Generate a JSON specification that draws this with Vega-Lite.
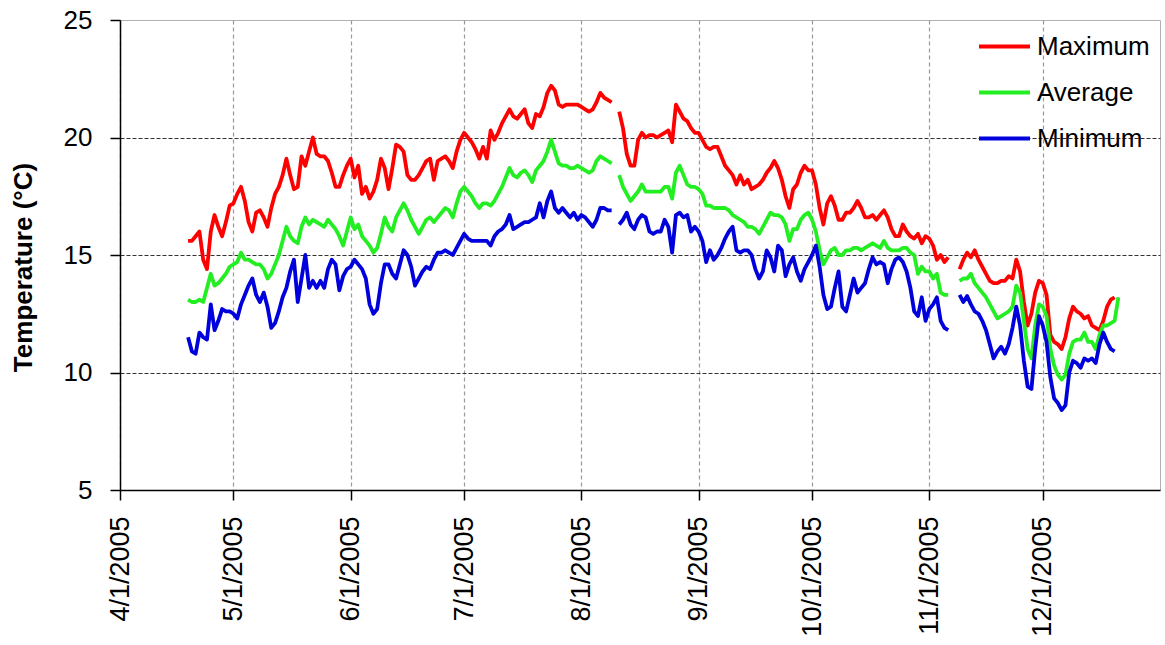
{
"$schema": "https://vega.github.io/schema/vega-lite/v6.json",
"width": 1040, "height": 470,
"autosize": {"type": "none"},
"padding": {"left": 120, "top": 20, "right": 5, "bottom": 155},
"background": "white",
"config": {"view": {"stroke": "#b0b0b0", "strokeWidth": 1}, "font": "Liberation Sans"},
"data": {"values": [
{"date":"2005/04/19","Maximum":15.6,"Average":13.1,"Minimum":11.5},
{"date":"2005/04/20","Maximum":15.6,"Average":13.0,"Minimum":10.9},
{"date":"2005/04/21","Maximum":15.8,"Average":13.0,"Minimum":10.8},
{"date":"2005/04/22","Maximum":16.0,"Average":13.1,"Minimum":11.7},
{"date":"2005/04/23","Maximum":14.8,"Average":13.0,"Minimum":11.5},
{"date":"2005/04/24","Maximum":14.4,"Average":13.6,"Minimum":11.4},
{"date":"2005/04/25","Maximum":16.0,"Average":14.2,"Minimum":12.9},
{"date":"2005/04/26","Maximum":16.7,"Average":13.7,"Minimum":11.8},
{"date":"2005/04/27","Maximum":16.2,"Average":13.8,"Minimum":12.2},
{"date":"2005/04/28","Maximum":15.8,"Average":14.0,"Minimum":12.7},
{"date":"2005/04/29","Maximum":16.4,"Average":14.2,"Minimum":12.6},
{"date":"2005/04/30","Maximum":17.1,"Average":14.5,"Minimum":12.6},
{"date":"2005/05/01","Maximum":17.2,"Average":14.6,"Minimum":12.5},
{"date":"2005/05/02","Maximum":17.6,"Average":14.7,"Minimum":12.3},
{"date":"2005/05/03","Maximum":17.9,"Average":15.1,"Minimum":12.9},
{"date":"2005/05/04","Maximum":17.3,"Average":14.8,"Minimum":13.3},
{"date":"2005/05/05","Maximum":16.4,"Average":14.8,"Minimum":13.7},
{"date":"2005/05/06","Maximum":16.0,"Average":14.7,"Minimum":14.0},
{"date":"2005/05/07","Maximum":16.8,"Average":14.6,"Minimum":13.3},
{"date":"2005/05/08","Maximum":16.9,"Average":14.6,"Minimum":13.0},
{"date":"2005/05/09","Maximum":16.6,"Average":14.4,"Minimum":13.4},
{"date":"2005/05/10","Maximum":16.2,"Average":14.0,"Minimum":12.8},
{"date":"2005/05/11","Maximum":17.0,"Average":14.2,"Minimum":11.9},
{"date":"2005/05/12","Maximum":17.6,"Average":14.6,"Minimum":12.1},
{"date":"2005/05/13","Maximum":17.9,"Average":15.0,"Minimum":12.6},
{"date":"2005/05/14","Maximum":18.4,"Average":15.6,"Minimum":13.2},
{"date":"2005/05/15","Maximum":19.1,"Average":16.2,"Minimum":13.6},
{"date":"2005/05/16","Maximum":18.4,"Average":15.8,"Minimum":14.3},
{"date":"2005/05/17","Maximum":17.8,"Average":15.6,"Minimum":14.8},
{"date":"2005/05/18","Maximum":17.9,"Average":15.5,"Minimum":13.0},
{"date":"2005/05/19","Maximum":19.2,"Average":16.2,"Minimum":14.0},
{"date":"2005/05/20","Maximum":18.8,"Average":16.6,"Minimum":15.0},
{"date":"2005/05/21","Maximum":19.4,"Average":16.3,"Minimum":13.6},
{"date":"2005/05/22","Maximum":20.0,"Average":16.5,"Minimum":13.9},
{"date":"2005/05/23","Maximum":19.3,"Average":16.4,"Minimum":13.6},
{"date":"2005/05/24","Maximum":19.2,"Average":16.3,"Minimum":13.9},
{"date":"2005/05/25","Maximum":19.2,"Average":16.2,"Minimum":13.6},
{"date":"2005/05/26","Maximum":19.0,"Average":16.5,"Minimum":14.4},
{"date":"2005/05/27","Maximum":18.5,"Average":16.3,"Minimum":14.8},
{"date":"2005/05/28","Maximum":17.9,"Average":16.1,"Minimum":14.6},
{"date":"2005/05/29","Maximum":17.9,"Average":15.8,"Minimum":13.5},
{"date":"2005/05/30","Maximum":18.4,"Average":15.4,"Minimum":14.1},
{"date":"2005/05/31","Maximum":18.8,"Average":16.0,"Minimum":14.4},
{"date":"2005/06/01","Maximum":19.1,"Average":16.6,"Minimum":14.5},
{"date":"2005/06/02","Maximum":18.3,"Average":16.1,"Minimum":14.8},
{"date":"2005/06/03","Maximum":18.8,"Average":16.3,"Minimum":14.6},
{"date":"2005/06/04","Maximum":17.6,"Average":15.8,"Minimum":14.4},
{"date":"2005/06/05","Maximum":17.9,"Average":15.6,"Minimum":14.0},
{"date":"2005/06/06","Maximum":17.4,"Average":15.4,"Minimum":12.9},
{"date":"2005/06/07","Maximum":17.7,"Average":15.1,"Minimum":12.5},
{"date":"2005/06/08","Maximum":18.2,"Average":15.3,"Minimum":12.7},
{"date":"2005/06/09","Maximum":19.1,"Average":15.9,"Minimum":13.8},
{"date":"2005/06/10","Maximum":18.7,"Average":16.6,"Minimum":14.6},
{"date":"2005/06/11","Maximum":17.8,"Average":16.2,"Minimum":14.6},
{"date":"2005/06/12","Maximum":18.7,"Average":16.0,"Minimum":14.2},
{"date":"2005/06/13","Maximum":19.7,"Average":16.6,"Minimum":14.0},
{"date":"2005/06/14","Maximum":19.6,"Average":16.9,"Minimum":14.6},
{"date":"2005/06/15","Maximum":19.4,"Average":17.2,"Minimum":15.2},
{"date":"2005/06/16","Maximum":18.4,"Average":16.9,"Minimum":15.0},
{"date":"2005/06/17","Maximum":18.2,"Average":16.5,"Minimum":14.5},
{"date":"2005/06/18","Maximum":18.2,"Average":16.2,"Minimum":13.7},
{"date":"2005/06/19","Maximum":18.4,"Average":15.9,"Minimum":14.0},
{"date":"2005/06/20","Maximum":18.7,"Average":16.2,"Minimum":14.3},
{"date":"2005/06/21","Maximum":19.0,"Average":16.5,"Minimum":14.5},
{"date":"2005/06/22","Maximum":19.1,"Average":16.6,"Minimum":14.4},
{"date":"2005/06/23","Maximum":18.2,"Average":16.4,"Minimum":14.8},
{"date":"2005/06/24","Maximum":19.0,"Average":16.6,"Minimum":15.1},
{"date":"2005/06/25","Maximum":19.1,"Average":16.8,"Minimum":15.1},
{"date":"2005/06/26","Maximum":19.2,"Average":17.0,"Minimum":15.2},
{"date":"2005/06/27","Maximum":19.0,"Average":16.9,"Minimum":15.1},
{"date":"2005/06/28","Maximum":18.7,"Average":16.6,"Minimum":15.0},
{"date":"2005/06/29","Maximum":19.4,"Average":17.2,"Minimum":15.3},
{"date":"2005/06/30","Maximum":19.9,"Average":17.7,"Minimum":15.6},
{"date":"2005/07/01","Maximum":20.2,"Average":17.9,"Minimum":15.9},
{"date":"2005/07/02","Maximum":20.0,"Average":17.7,"Minimum":15.7},
{"date":"2005/07/03","Maximum":19.8,"Average":17.5,"Minimum":15.6},
{"date":"2005/07/04","Maximum":19.5,"Average":17.2,"Minimum":15.6},
{"date":"2005/07/05","Maximum":19.1,"Average":17.0,"Minimum":15.6},
{"date":"2005/07/06","Maximum":19.6,"Average":17.2,"Minimum":15.6},
{"date":"2005/07/07","Maximum":19.1,"Average":17.2,"Minimum":15.6},
{"date":"2005/07/08","Maximum":20.3,"Average":17.1,"Minimum":15.4},
{"date":"2005/07/09","Maximum":19.9,"Average":17.3,"Minimum":15.8},
{"date":"2005/07/10","Maximum":20.2,"Average":17.6,"Minimum":16.0},
{"date":"2005/07/11","Maximum":20.6,"Average":17.9,"Minimum":16.1},
{"date":"2005/07/12","Maximum":20.9,"Average":18.3,"Minimum":16.3},
{"date":"2005/07/13","Maximum":21.2,"Average":18.7,"Minimum":16.7},
{"date":"2005/07/14","Maximum":20.9,"Average":18.4,"Minimum":16.1},
{"date":"2005/07/15","Maximum":20.8,"Average":18.3,"Minimum":16.2},
{"date":"2005/07/16","Maximum":21.0,"Average":18.5,"Minimum":16.3},
{"date":"2005/07/17","Maximum":21.2,"Average":18.6,"Minimum":16.4},
{"date":"2005/07/18","Maximum":20.6,"Average":18.4,"Minimum":16.4},
{"date":"2005/07/19","Maximum":20.4,"Average":18.1,"Minimum":16.5},
{"date":"2005/07/20","Maximum":21.0,"Average":18.6,"Minimum":16.6},
{"date":"2005/07/21","Maximum":20.9,"Average":18.8,"Minimum":17.2},
{"date":"2005/07/22","Maximum":21.3,"Average":19.0,"Minimum":16.6},
{"date":"2005/07/23","Maximum":21.9,"Average":19.4,"Minimum":17.3},
{"date":"2005/07/24","Maximum":22.2,"Average":19.9,"Minimum":17.7},
{"date":"2005/07/25","Maximum":22.0,"Average":19.4,"Minimum":17.0},
{"date":"2005/07/26","Maximum":21.4,"Average":18.9,"Minimum":16.8},
{"date":"2005/07/27","Maximum":21.3,"Average":18.8,"Minimum":17.0},
{"date":"2005/07/28","Maximum":21.4,"Average":18.8,"Minimum":16.8},
{"date":"2005/07/29","Maximum":21.4,"Average":18.7,"Minimum":16.6},
{"date":"2005/07/30","Maximum":21.4,"Average":18.7,"Minimum":16.8},
{"date":"2005/07/31","Maximum":21.4,"Average":18.8,"Minimum":16.5},
{"date":"2005/08/01","Maximum":21.3,"Average":18.7,"Minimum":16.7},
{"date":"2005/08/02","Maximum":21.2,"Average":18.6,"Minimum":16.6},
{"date":"2005/08/03","Maximum":21.1,"Average":18.5,"Minimum":16.4},
{"date":"2005/08/04","Maximum":21.2,"Average":18.6,"Minimum":16.2},
{"date":"2005/08/05","Maximum":21.5,"Average":19.0,"Minimum":16.5},
{"date":"2005/08/06","Maximum":21.9,"Average":19.2,"Minimum":17.0},
{"date":"2005/08/07","Maximum":21.7,"Average":19.1,"Minimum":17.0},
{"date":"2005/08/08","Maximum":21.6,"Average":19.0,"Minimum":16.9},
{"date":"2005/08/09","Maximum":21.5,"Average":18.9,"Minimum":16.9},
{"date":"2005/08/10","Maximum":null,"Average":null,"Minimum":null},
{"date":"2005/08/11","Maximum":21.1,"Average":18.4,"Minimum":16.3},
{"date":"2005/08/12","Maximum":20.4,"Average":17.9,"Minimum":16.5},
{"date":"2005/08/13","Maximum":19.3,"Average":17.6,"Minimum":16.8},
{"date":"2005/08/14","Maximum":18.8,"Average":17.3,"Minimum":16.3},
{"date":"2005/08/15","Maximum":18.8,"Average":17.5,"Minimum":16.1},
{"date":"2005/08/16","Maximum":19.9,"Average":17.7,"Minimum":16.5},
{"date":"2005/08/17","Maximum":20.2,"Average":18.0,"Minimum":16.7},
{"date":"2005/08/18","Maximum":20.0,"Average":17.7,"Minimum":16.6},
{"date":"2005/08/19","Maximum":20.1,"Average":17.7,"Minimum":16.0},
{"date":"2005/08/20","Maximum":20.1,"Average":17.7,"Minimum":15.9},
{"date":"2005/08/21","Maximum":20.0,"Average":17.7,"Minimum":16.0},
{"date":"2005/08/22","Maximum":20.1,"Average":17.7,"Minimum":16.0},
{"date":"2005/08/23","Maximum":20.2,"Average":17.9,"Minimum":16.5},
{"date":"2005/08/24","Maximum":20.3,"Average":17.9,"Minimum":16.2},
{"date":"2005/08/25","Maximum":19.8,"Average":17.4,"Minimum":15.1},
{"date":"2005/08/26","Maximum":21.4,"Average":18.5,"Minimum":16.7},
{"date":"2005/08/27","Maximum":21.1,"Average":18.8,"Minimum":16.8},
{"date":"2005/08/28","Maximum":20.8,"Average":18.4,"Minimum":16.6},
{"date":"2005/08/29","Maximum":20.7,"Average":18.0,"Minimum":16.7},
{"date":"2005/08/30","Maximum":20.4,"Average":17.9,"Minimum":16.0},
{"date":"2005/08/31","Maximum":20.2,"Average":17.9,"Minimum":16.2},
{"date":"2005/09/01","Maximum":20.2,"Average":17.8,"Minimum":16.0},
{"date":"2005/09/02","Maximum":19.9,"Average":17.6,"Minimum":15.6},
{"date":"2005/09/03","Maximum":19.6,"Average":17.1,"Minimum":14.7},
{"date":"2005/09/04","Maximum":19.5,"Average":17.1,"Minimum":15.2},
{"date":"2005/09/05","Maximum":19.6,"Average":17.0,"Minimum":14.8},
{"date":"2005/09/06","Maximum":19.6,"Average":17.0,"Minimum":15.0},
{"date":"2005/09/07","Maximum":19.2,"Average":17.0,"Minimum":15.3},
{"date":"2005/09/08","Maximum":18.8,"Average":17.0,"Minimum":15.7},
{"date":"2005/09/09","Maximum":18.6,"Average":16.9,"Minimum":16.0},
{"date":"2005/09/10","Maximum":18.4,"Average":16.7,"Minimum":16.2},
{"date":"2005/09/11","Maximum":18.0,"Average":16.6,"Minimum":15.2},
{"date":"2005/09/12","Maximum":18.4,"Average":16.5,"Minimum":15.1},
{"date":"2005/09/13","Maximum":18.0,"Average":16.4,"Minimum":15.2},
{"date":"2005/09/14","Maximum":18.2,"Average":16.2,"Minimum":15.2},
{"date":"2005/09/15","Maximum":17.8,"Average":16.2,"Minimum":15.0},
{"date":"2005/09/16","Maximum":17.9,"Average":16.1,"Minimum":14.4},
{"date":"2005/09/17","Maximum":18.0,"Average":15.9,"Minimum":14.0},
{"date":"2005/09/18","Maximum":18.2,"Average":16.2,"Minimum":14.3},
{"date":"2005/09/19","Maximum":18.5,"Average":16.5,"Minimum":15.2},
{"date":"2005/09/20","Maximum":18.7,"Average":16.8,"Minimum":14.9},
{"date":"2005/09/21","Maximum":19.0,"Average":16.7,"Minimum":14.3},
{"date":"2005/09/22","Maximum":18.7,"Average":16.7,"Minimum":15.4},
{"date":"2005/09/23","Maximum":18.2,"Average":16.6,"Minimum":15.2},
{"date":"2005/09/24","Maximum":17.5,"Average":16.3,"Minimum":14.1},
{"date":"2005/09/25","Maximum":17.0,"Average":15.6,"Minimum":14.6},
{"date":"2005/09/26","Maximum":17.8,"Average":16.1,"Minimum":14.9},
{"date":"2005/09/27","Maximum":18.0,"Average":16.1,"Minimum":14.3},
{"date":"2005/09/28","Maximum":18.5,"Average":16.5,"Minimum":13.9},
{"date":"2005/09/29","Maximum":18.8,"Average":16.7,"Minimum":14.4},
{"date":"2005/09/30","Maximum":18.6,"Average":16.8,"Minimum":14.7},
{"date":"2005/10/01","Maximum":18.6,"Average":16.5,"Minimum":15.0},
{"date":"2005/10/02","Maximum":18.0,"Average":16.0,"Minimum":15.4},
{"date":"2005/10/03","Maximum":17.0,"Average":15.2,"Minimum":14.5},
{"date":"2005/10/04","Maximum":16.3,"Average":14.6,"Minimum":13.3},
{"date":"2005/10/05","Maximum":17.2,"Average":14.9,"Minimum":12.7},
{"date":"2005/10/06","Maximum":17.5,"Average":15.2,"Minimum":12.8},
{"date":"2005/10/07","Maximum":17.1,"Average":15.3,"Minimum":13.6},
{"date":"2005/10/08","Maximum":16.5,"Average":15.0,"Minimum":14.3},
{"date":"2005/10/09","Maximum":16.5,"Average":15.0,"Minimum":12.8},
{"date":"2005/10/10","Maximum":16.8,"Average":15.2,"Minimum":12.6},
{"date":"2005/10/11","Maximum":16.8,"Average":15.2,"Minimum":13.3},
{"date":"2005/10/12","Maximum":17.0,"Average":15.3,"Minimum":14.0},
{"date":"2005/10/13","Maximum":17.3,"Average":15.3,"Minimum":13.4},
{"date":"2005/10/14","Maximum":17.0,"Average":15.2,"Minimum":13.6},
{"date":"2005/10/15","Maximum":16.6,"Average":15.3,"Minimum":13.8},
{"date":"2005/10/16","Maximum":16.6,"Average":15.4,"Minimum":14.4},
{"date":"2005/10/17","Maximum":16.7,"Average":15.5,"Minimum":14.9},
{"date":"2005/10/18","Maximum":16.5,"Average":15.4,"Minimum":14.6},
{"date":"2005/10/19","Maximum":16.7,"Average":15.3,"Minimum":14.7},
{"date":"2005/10/20","Maximum":16.9,"Average":15.6,"Minimum":14.6},
{"date":"2005/10/21","Maximum":16.6,"Average":15.3,"Minimum":13.8},
{"date":"2005/10/22","Maximum":16.1,"Average":15.2,"Minimum":14.4},
{"date":"2005/10/23","Maximum":15.8,"Average":15.2,"Minimum":14.8},
{"date":"2005/10/24","Maximum":15.8,"Average":15.2,"Minimum":14.9},
{"date":"2005/10/25","Maximum":16.3,"Average":15.3,"Minimum":14.7},
{"date":"2005/10/26","Maximum":16.0,"Average":15.3,"Minimum":14.3},
{"date":"2005/10/27","Maximum":15.8,"Average":15.1,"Minimum":13.6},
{"date":"2005/10/28","Maximum":15.7,"Average":15.0,"Minimum":12.6},
{"date":"2005/10/29","Maximum":15.9,"Average":14.2,"Minimum":12.4},
{"date":"2005/10/30","Maximum":15.5,"Average":14.5,"Minimum":13.2},
{"date":"2005/10/31","Maximum":15.8,"Average":14.3,"Minimum":12.2},
{"date":"2005/11/01","Maximum":15.7,"Average":14.3,"Minimum":12.7},
{"date":"2005/11/02","Maximum":15.4,"Average":14.0,"Minimum":12.9},
{"date":"2005/11/03","Maximum":14.8,"Average":14.2,"Minimum":13.2},
{"date":"2005/11/04","Maximum":15.0,"Average":13.4,"Minimum":12.2},
{"date":"2005/11/05","Maximum":14.7,"Average":13.3,"Minimum":11.9},
{"date":"2005/11/06","Maximum":14.9,"Average":13.3,"Minimum":11.8},
{"date":"2005/11/07","Maximum":null,"Average":null,"Minimum":null},
{"date":"2005/11/08","Maximum":null,"Average":null,"Minimum":null},
{"date":"2005/11/09","Maximum":14.4,"Average":13.9,"Minimum":13.3},
{"date":"2005/11/10","Maximum":14.8,"Average":14.0,"Minimum":13.0},
{"date":"2005/11/11","Maximum":15.1,"Average":14.0,"Minimum":13.25},
{"date":"2005/11/12","Maximum":14.9,"Average":14.2,"Minimum":12.9},
{"date":"2005/11/13","Maximum":15.2,"Average":13.8,"Minimum":12.6},
{"date":"2005/11/14","Maximum":14.8,"Average":13.6,"Minimum":12.5},
{"date":"2005/11/15","Maximum":14.5,"Average":13.4,"Minimum":12.2},
{"date":"2005/11/16","Maximum":14.2,"Average":13.2,"Minimum":11.8},
{"date":"2005/11/17","Maximum":13.9,"Average":12.9,"Minimum":11.2},
{"date":"2005/11/18","Maximum":13.8,"Average":12.6,"Minimum":10.6},
{"date":"2005/11/19","Maximum":13.8,"Average":12.3,"Minimum":10.9},
{"date":"2005/11/20","Maximum":13.9,"Average":12.4,"Minimum":11.1},
{"date":"2005/11/21","Maximum":13.9,"Average":12.5,"Minimum":10.8},
{"date":"2005/11/22","Maximum":14.1,"Average":12.6,"Minimum":11.2},
{"date":"2005/11/23","Maximum":14.0,"Average":12.8,"Minimum":11.9},
{"date":"2005/11/24","Maximum":14.8,"Average":13.7,"Minimum":12.8},
{"date":"2005/11/25","Maximum":14.3,"Average":13.4,"Minimum":12.0},
{"date":"2005/11/26","Maximum":13.0,"Average":12.2,"Minimum":10.5},
{"date":"2005/11/27","Maximum":12.0,"Average":11.0,"Minimum":9.4},
{"date":"2005/11/28","Maximum":12.5,"Average":10.6,"Minimum":9.3},
{"date":"2005/11/29","Maximum":13.4,"Average":12.0,"Minimum":11.0},
{"date":"2005/11/30","Maximum":13.9,"Average":12.9,"Minimum":12.4},
{"date":"2005/12/01","Maximum":13.8,"Average":12.8,"Minimum":12.0},
{"date":"2005/12/02","Maximum":13.3,"Average":12.4,"Minimum":11.3},
{"date":"2005/12/03","Maximum":11.6,"Average":11.0,"Minimum":9.8},
{"date":"2005/12/04","Maximum":11.3,"Average":10.3,"Minimum":8.9},
{"date":"2005/12/05","Maximum":11.2,"Average":9.9,"Minimum":8.7},
{"date":"2005/12/06","Maximum":11.0,"Average":9.7,"Minimum":8.4},
{"date":"2005/12/07","Maximum":11.5,"Average":9.9,"Minimum":8.6},
{"date":"2005/12/08","Maximum":12.3,"Average":10.8,"Minimum":10.0},
{"date":"2005/12/09","Maximum":12.8,"Average":11.3,"Minimum":10.5},
{"date":"2005/12/10","Maximum":12.6,"Average":11.4,"Minimum":10.4},
{"date":"2005/12/11","Maximum":12.5,"Average":11.4,"Minimum":10.2},
{"date":"2005/12/12","Maximum":12.3,"Average":11.7,"Minimum":10.6},
{"date":"2005/12/13","Maximum":12.4,"Average":11.3,"Minimum":10.5},
{"date":"2005/12/14","Maximum":12.0,"Average":11.3,"Minimum":10.6},
{"date":"2005/12/15","Maximum":11.9,"Average":11.0,"Minimum":10.4},
{"date":"2005/12/16","Maximum":11.8,"Average":11.6,"Minimum":11.2},
{"date":"2005/12/17","Maximum":12.2,"Average":12.0,"Minimum":11.7},
{"date":"2005/12/18","Maximum":12.8,"Average":12.0,"Minimum":11.3},
{"date":"2005/12/19","Maximum":13.1,"Average":12.1,"Minimum":11.0},
{"date":"2005/12/20","Maximum":13.2,"Average":12.2,"Minimum":10.9},
{"date":"2005/12/21","Maximum":null,"Average":13.2,"Minimum":null}
]},
"transform": [{"fold": ["Maximum", "Average", "Minimum"], "as": ["series", "temp"]}],
"mark": {"type": "line", "strokeWidth": 3.8, "strokeJoin": "round", "invalid": "break-paths-filter-domains"},
"encoding": {
  "x": {"field": "date", "type": "temporal",
    "scale": {"domain": [{"year": 2005, "month": 4, "date": 1}, {"year": 2006, "month": 1, "date": 1}]},
    "axis": {"values": [{"year":2005,"month":4,"date":1},{"year":2005,"month":5,"date":1},{"year":2005,"month":6,"date":1},{"year":2005,"month":7,"date":1},{"year":2005,"month":8,"date":1},{"year":2005,"month":9,"date":1},{"year":2005,"month":10,"date":1},{"year":2005,"month":11,"date":1},{"year":2005,"month":12,"date":1}],
      "format": "%-m/%-d/%Y", "labelAngle": 270, "title": null,
      "labelFont": "Liberation Sans", "labelFontSize": 27, "labelColor": "#000", "labelPadding": 16,
      "domainColor": "#000", "domainWidth": 1.5, "tickColor": "#000", "tickSize": 10, "tickWidth": 1.5,
      "grid": true, "gridColor": "#999999", "gridDash": [4, 3], "gridWidth": 1.2, "labelOverlap": false}},
  "y": {"field": "temp", "type": "quantitative",
    "scale": {"domain": [5, 25], "nice": false, "zero": false},
    "axis": {"values": [5, 10, 15, 20, 25], "title": "Temperature (°C)",
      "titleFont": "Liberation Sans", "titleFontSize": 26, "titleFontWeight": "bold", "titleColor": "#000", "titlePadding": 27, "titleY": 247,
      "labelFont": "Liberation Sans", "labelFontSize": 26, "labelColor": "#000", "labelPadding": 18,
      "domainColor": "#000", "domainWidth": 1.5, "tickColor": "#000", "tickSize": 10, "tickWidth": 1.5,
      "grid": true, "gridColor": "#333333", "gridDash": [4, 2], "gridWidth": 1.2,
      "gridOpacity": {"condition": {"test": "datum.value == 5 || datum.value == 25", "value": 0}, "value": 1}}},
  "color": {"field": "series", "type": "nominal",
    "scale": {"domain": ["Maximum", "Average", "Minimum"], "range": ["#ff0000", "#22ee22", "#0000dd"]},
    "legend": {"orient": "none", "legendX": 857, "legendY": -1, "title": null, "padding": 0,
      "symbolType": "stroke", "symbolStrokeWidth": 4, "symbolSize": 2600,
      "labelFont": "Liberation Sans", "labelFontSize": 26, "labelColor": "#000", "labelOffset": 5, "rowPadding": 5}}
}
}
